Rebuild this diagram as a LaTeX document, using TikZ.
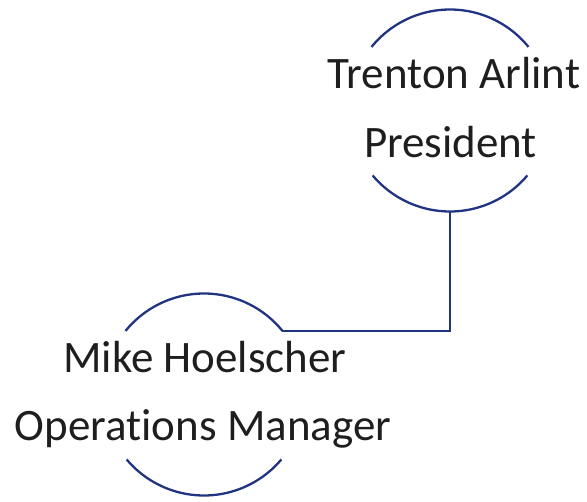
\documentclass[tikz,border=0pt]{standalone}
\usepackage{fontspec}
\setmainfont{Carlito}[Ligatures=NoCommon]
\definecolor{arcblue}{RGB}{32,52,130}
\definecolor{txt}{RGB}{30,30,30}
\begin{document}
\begin{tikzpicture}[x=1pt,y=1pt,
  person/.style={circle,minimum size=202pt,inner sep=0pt,outer sep=0pt},
  lbl/.style={anchor=base,inner sep=0pt,text=txt,font=\fontsize{45}{54}\selectfont},
  arcline/.style={draw=arcblue,line width=2.3pt},
  link/.style={draw=arcblue,line width=2.3pt}]
\useasboundingbox (0,0) rectangle (587,-502);
\node[person] (pres) at (450,-110.5) {};
\node[person] (mike) at (204,-394.5) {};
\node[lbl] (presname) at (454,-89) {Trenton Arlint};
\node[lbl] (prestitle) at (450.5,-158) {President};
\node[lbl] (mikename) at (205,-373) {Mike Hoelscher};
\node[lbl] (miketitle) at (203,-441) {Operations Manager};
\draw[arcline] (pres.39) arc[start angle=39,end angle=141,radius=101pt];
\draw[arcline] (pres.220) arc[start angle=220,end angle=320,radius=101pt];
\draw[arcline] (mike.39) arc[start angle=39,end angle=141,radius=101pt];
\draw[arcline] (mike.220) arc[start angle=220,end angle=320,radius=101pt];
\draw[link] (pres.south) |- (mike.39);
\end{tikzpicture}
\end{document}
